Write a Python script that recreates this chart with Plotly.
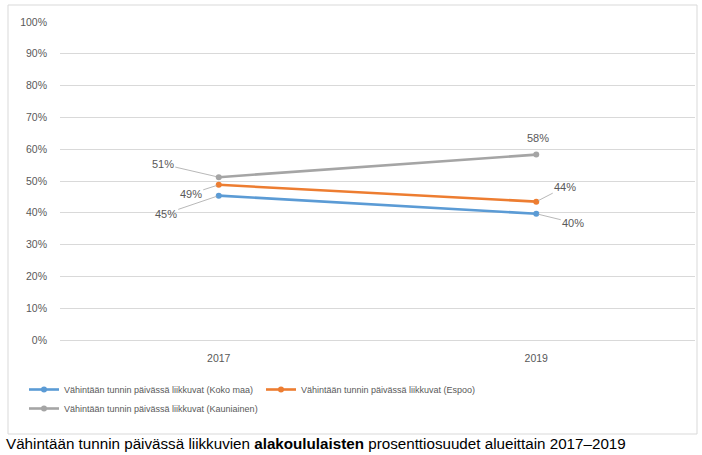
import plotly.graph_objects as go

years = ["2017", "2019"]
series_names = [
    "Vähintään tunnin päivässä liikkuvat (Koko maa)",
    "Vähintään tunnin päivässä liikkuvat (Espoo)",
    "Vähintään tunnin päivässä liikkuvat (Kauniainen)",
]
koko_maa = [0.454, 0.397]
espoo = [0.488, 0.435]
kauniainen = [0.512, 0.583]
colors = ["#5B9BD5", "#ED7D31", "#A5A5A5"]
caption_pre = "Vähintään tunnin päivässä liikkuvien "
caption_bold = "alakoululaisten"
caption_post = " prosenttiosuudet alueittain 2017–2019"

values = [koko_maa, espoo, kauniainen]
# label offsets (pixels) per series per point: (ax, ay)
offsets = [
    [(-53, 18), (37, 9)],
    [(-28, 9), (29, -15)],
    [(-56, -13), (2, -17)],
]

FONT = "Liberation Sans, Arial, sans-serif"

fig = go.Figure()
for name, vals, col in zip(series_names, values, colors):
    fig.add_trace(go.Scatter(
        x=years, y=vals, name=name, mode="lines+markers",
        line=dict(color=col, width=2.6),
        marker=dict(color=col, size=6),
        hoverinfo="skip",
    ))

annotations = []
for si, vals in enumerate(values):
    for pi, v in enumerate(vals):
        ax, ay = offsets[si][pi]
        hide = (si == 2 and pi == 1)
        annotations.append(dict(
            x=pi, y=v, xref="x", yref="y",
            text=f"{round(v*100):.0f}%",
            showarrow=True, arrowhead=0, arrowwidth=0.8,
            arrowcolor="rgba(0,0,0,0)" if hide else "#A6A6A6",
            ax=ax, ay=ay, standoff=2,
            font=dict(size=11, color="#595959", family=FONT),
        ))

W, H = 702, 455
L, R, T, B = 60, 7, 22, 115
pw, ph = W - L - R, H - T - B

def px_x(x):
    return (x - L) / pw

def px_y(y):
    return (H - B - y) / ph

annotations.append(dict(
    x=px_x(4), y=px_y(443), xref="paper", yref="paper",
    xanchor="left", yanchor="middle", showarrow=False,
    text=caption_pre + "<b>" + caption_bold + "</b>" + caption_post,
    font=dict(size=15.2, color="#000000", family=FONT),
))

fig.update_layout(
    width=W, height=H,
    margin=dict(l=L, r=R, t=T, b=B),
    paper_bgcolor="white", plot_bgcolor="white",
    font=dict(family=FONT, color="#595959", size=9),
    showlegend=True,
    legend=dict(
        orientation="h", x=px_x(24), y=px_y(375), xanchor="left", yanchor="top",
        font=dict(size=9, color="#595959"),
        entrywidth=192, entrywidthmode="pixels",
        tracegroupgap=0, itemwidth=30,
    ),
    xaxis=dict(
        type="category", range=[-0.5, 1.5], showgrid=False, zeroline=False,
        showline=False, ticks="", tickfont=dict(size=10.5, color="#595959"),
        ticklabelstandoff=10,
    ),
    yaxis=dict(
        range=[0, 1], dtick=0.1, tickformat=".0%", showgrid=True,
        gridcolor="#D9D9D9", gridwidth=1, zeroline=True, zerolinecolor="#D9D9D9",
        zerolinewidth=1, showline=False, ticks="",
        tickfont=dict(size=10.5, color="#595959"), ticklabelstandoff=12,
    ),
    annotations=annotations,
    shapes=[dict(
        type="rect", xref="paper", yref="paper",
        x0=px_x(8), x1=px_x(697), y0=px_y(434), y1=px_y(5),
        line=dict(color="#D9D9D9", width=1), fillcolor="rgba(0,0,0,0)",
        layer="below",
    )],
)

fig.write_html(
    "out.html",
    config={"displayModeBar": False},
    post_script="document.body.style.margin='0';document.body.style.overflow='hidden';",
)
